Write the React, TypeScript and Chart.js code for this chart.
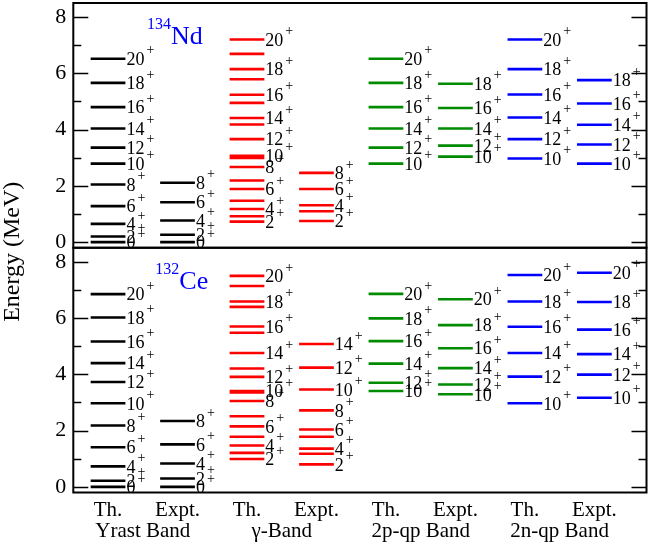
import React, { useEffect, useRef } from "react";
import { Chart, registerables } from "chart.js";

Chart.register(...registerables);

// ---------- data ----------
const columnLabels = ["Th.", "Expt.", "Th.", "Expt.", "Th.", "Expt.", "Th.", "Expt."];
const bandLabels = ["Yrast Band", "\u03b3-Band", "2p-qp Band", "2n-qp Band"];
const yTickValues = [0, 2, 4, 6, 8];

// 134Nd (top panel), energies in MeV and spins
const ndYrastThE = [0, 0.2, 0.65, 1.28, 2.05, 2.79, 3.36, 4.04, 4.8, 5.66, 6.52];
const ndYrastThJ = [0, 2, 4, 6, 8, 10, 12, 14, 16, 18, 20];
const ndYrastExE = [0, 0.26, 0.77, 1.42, 2.11];
const ndYrastExJ = [0, 2, 4, 6, 8];
const ndGammaThE = [0.73, 0.92, 1.18, 1.47, 1.89, 2.19, 2.67, 2.99, 3.07, 3.66, 4.18, 4.41, 4.95, 5.24, 5.79, 6.15, 6.69, 7.2];
const ndGammaThJ = [2, 3, 4, 5, 6, 7, 8, 9, 10, 12, 13, 14, 15, 16, 17, 18, 19, 20];
const ndGammaExE = [0.75, 1.1, 1.31, 1.89, 2.46];
const ndGammaExJ = [2, 3, 4, 6, 8];
const nd2pThE = [2.79, 3.36, 4.04, 4.8, 5.66, 6.52];
const nd2pThJ = [10, 12, 14, 16, 18, 20];
const nd2pExE = [3.04, 3.43, 4.04, 4.77, 5.63];
const nd2pExJ = [10, 12, 14, 16, 18];
const nd2nThE = [2.97, 3.66, 4.43, 5.25, 6.15, 7.2];
const nd2nThJ = [10, 12, 14, 16, 18, 20];
const nd2nExE = [2.79, 3.47, 4.17, 4.93, 5.76];
const nd2nExJ = [10, 12, 14, 16, 18];

// 132Ce (bottom panel)
const ceYrastThE = [0, 0.22, 0.73, 1.41, 2.18, 2.97, 3.73, 4.4, 5.17, 6.02, 6.85];
const ceYrastThJ = [0, 2, 4, 6, 8, 10, 12, 14, 16, 18, 20];
const ceYrastExE = [0, 0.3, 0.83, 1.51, 2.34];
const ceYrastExJ = [0, 2, 4, 6, 8];
const ceGammaThE = [0.99, 1.21, 1.47, 1.78, 2.15, 2.51, 3.05, 3.36, 3.41, 3.91, 4.21, 4.76, 5.48, 5.7, 6.4, 6.59, 7.14, 7.5];
const ceGammaThJ = [2, 3, 4, 5, 6, 7, 8, 9, 10, 12, 13, 14, 15, 16, 17, 18, 19, 20];
const ceGammaExE = [0.8, 1.18, 1.36, 1.78, 2.04, 2.72, 3.46, 4.24, 5.08];
const ceGammaExJ = [2, 3, 4, 5, 6, 8, 10, 12, 14];
const ce2pThE = [3.41, 3.7, 4.38, 5.18, 5.99, 6.86];
const ce2pThJ = [10, 12, 14, 16, 18, 20];
const ce2pExE = [3.29, 3.64, 4.22, 4.93, 5.75, 6.67];
const ce2pExJ = [10, 12, 14, 16, 18, 20];
const ce2nThE = [2.97, 3.92, 4.76, 5.69, 6.59, 7.53];
const ce2nThJ = [10, 12, 14, 16, 18, 20];
const ce2nExE = [3.17, 3.99, 4.72, 5.59, 6.57, 7.61];
const ce2nExJ = [10, 12, 14, 16, 18, 20];

// ---------- styling ----------
const BLACK = "#000000";
const RED = "#ff0000";
const GREEN = "#008b00";
const BLUE = "#0000ff";
const bandColors = [BLACK, BLACK, RED, RED, GREEN, GREEN, BLUE, BLUE];
const HALF = 0.25;
const SERIF = '"Liberation Serif", "Times New Roman", serif';

type Col = { E: number[]; J: number[] };
type Panel = { axis: string; nucleusMass: string; nucleusName: string; cols: Col[] };

const panels: Panel[] = [
  {
    axis: "yTop",
    nucleusMass: "134",
    nucleusName: "Nd",
    cols: [
      { E: ndYrastThE, J: ndYrastThJ },
      { E: ndYrastExE, J: ndYrastExJ },
      { E: ndGammaThE, J: ndGammaThJ },
      { E: ndGammaExE, J: ndGammaExJ },
      { E: nd2pThE, J: nd2pThJ },
      { E: nd2pExE, J: nd2pExJ },
      { E: nd2nThE, J: nd2nThJ },
      { E: nd2nExE, J: nd2nExJ },
    ],
  },
  {
    axis: "yBot",
    nucleusMass: "132",
    nucleusName: "Ce",
    cols: [
      { E: ceYrastThE, J: ceYrastThJ },
      { E: ceYrastExE, J: ceYrastExJ },
      { E: ceGammaThE, J: ceGammaThJ },
      { E: ceGammaExE, J: ceGammaExJ },
      { E: ce2pThE, J: ce2pThJ },
      { E: ce2pExE, J: ce2pExJ },
      { E: ce2nThE, J: ce2nThJ },
      { E: ce2nExE, J: ce2nExJ },
    ],
  },
];

const nucleusPos = [
  { x: 1.06, y: 7.05 },
  { x: 1.18, y: 7.05 },
];

function buildDatasets() {
  const ds: any[] = [];
  panels.forEach((p) => {
    p.cols.forEach((col, ci) => {
      const c = ci + 0.5;
      const data: any[] = [];
      col.E.forEach((e) => {
        data.push({ x: c - HALF, y: e });
        data.push({ x: c + HALF, y: e });
        data.push({ x: c, y: null });
      });
      ds.push({
        data,
        yAxisID: p.axis,
        xAxisID: "x",
        borderColor: bandColors[ci],
        backgroundColor: bandColors[ci],
        borderWidth: 2.6,
        pointRadius: 0,
        spanGaps: false,
        fill: false,
        tension: 0,
        borderCapStyle: "butt",
      });
    });
  });
  return ds;
}

const drawPlugin = {
  id: "levelDecor",
  afterDraw(chart: any) {
    const ctx = chart.ctx as CanvasRenderingContext2D;
    const xs = chart.scales.x;
    const area = chart.chartArea;
    ctx.save();

    // level labels
    panels.forEach((p) => {
      const ys = chart.scales[p.axis];
      p.cols.forEach((col, ci) => {
        col.E.forEach((e, k) => {
          const j = col.J[k];
          if (j % 2 !== 0) return;
          const x = xs.getPixelForValue(ci + 0.5 + HALF) + 1;
          const y = ys.getPixelForValue(e);
          const s = String(j);
          ctx.fillStyle = "#000";
          ctx.textAlign = "left";
          ctx.textBaseline = "middle";
          ctx.font = `18px ${SERIF}`;
          ctx.fillText(s, x, y + 1.5);
          const w = ctx.measureText(s).width;
          ctx.font = `14px ${SERIF}`;
          ctx.fillText("+", x + w + 2, y - 8);
        });
      });
    });

    // nucleus names
    panels.forEach((p, i) => {
      const ys = chart.scales[p.axis];
      const x = xs.getPixelForValue(nucleusPos[i].x);
      const y = ys.getPixelForValue(nucleusPos[i].y);
      ctx.fillStyle = BLUE;
      ctx.textAlign = "left";
      ctx.textBaseline = "alphabetic";
      ctx.font = `16px ${SERIF}`;
      ctx.fillText(p.nucleusMass, x, y - 15);
      const w = ctx.measureText(p.nucleusMass).width;
      ctx.font = `26px ${SERIF}`;
      ctx.fillText(p.nucleusName, x + w, y);
    });

    // frames and inside ticks
    ctx.strokeStyle = "#000";
    panels.forEach((p) => {
      const ys = chart.scales[p.axis];
      ctx.lineWidth = 2;
      ctx.strokeRect(area.left, ys.top, area.right - area.left, ys.bottom - ys.top);
      ctx.lineWidth = 1.5;
      for (let v = 0; v <= 8; v++) {
        const len = v % 2 === 0 ? 15 : 8;
        const y = Math.round(ys.getPixelForValue(v)) + 0.5;
        ctx.beginPath();
        ctx.moveTo(area.left, y);
        ctx.lineTo(area.left + len, y);
        ctx.moveTo(area.right, y);
        ctx.lineTo(area.right - len, y);
        ctx.stroke();
      }
    });

    // x labels
    ctx.fillStyle = "#000";
    ctx.textAlign = "center";
    ctx.textBaseline = "middle";
    ctx.font = `21px ${SERIF}`;
    columnLabels.forEach((t, i) => {
      ctx.fillText(t, xs.getPixelForValue(i + 0.5), area.bottom + 18);
    });
    bandLabels.forEach((t, i) => {
      ctx.fillText(t, xs.getPixelForValue(2 * i + 1), area.bottom + 39);
    });

    // y title
    ctx.save();
    ctx.translate(13, (area.top + area.bottom) / 2 + 4);
    ctx.rotate(-Math.PI / 2);
    ctx.font = `24px ${SERIF}`;
    ctx.textAlign = "center";
    ctx.textBaseline = "middle";
    ctx.fillText("Energy (MeV)", 0, 0);
    ctx.restore();

    ctx.restore();
  },
};

function yScale(weight: number) {
  return {
    type: "linear",
    position: "left",
    stack: "energy",
    stackWeight: 1,
    weight,
    min: -0.2,
    max: 8.5,
    grid: { display: false, drawTicks: false },
    border: { display: false },
    afterBuildTicks: (scale: any) => {
      scale.ticks = yTickValues.map((v) => ({ value: v }));
    },
    afterFit: (scale: any) => {
      scale.width = 73.3;
      scale.paddingTop = 0;
      scale.paddingBottom = 0;
      scale.paddingLeft = 0;
      scale.paddingRight = 0;
    },
    ticks: {
      padding: 7,
      color: "#000",
      font: { family: SERIF, size: 22 },
      callback: (v: any) => String(v),
    },
  };
}

export default function App() {
  const canvasRef = useRef<HTMLCanvasElement | null>(null);

  useEffect(() => {
    if (!canvasRef.current) return;
    const chart = new Chart(canvasRef.current, {
      type: "line",
      data: { datasets: buildDatasets() },
      options: {
        animation: false,
        responsive: true,
        maintainAspectRatio: false,
        layout: { padding: { top: 3, right: 1.5, bottom: 52.5, left: 0 } },
        plugins: { legend: { display: false }, tooltip: { enabled: false } },
        scales: {
          x: { type: "linear", min: 0, max: 8.25, display: false },
          yBot: yScale(0),
          yTop: yScale(1),
        } as any,
      },
      plugins: [drawPlugin],
    });
    return () => chart.destroy();
  }, []);

  return (
    <div style={{ position: "absolute", left: 0, top: 0, width: 648, height: 545, background: "#fff" }}>
      <canvas ref={canvasRef} />
    </div>
  );
}
